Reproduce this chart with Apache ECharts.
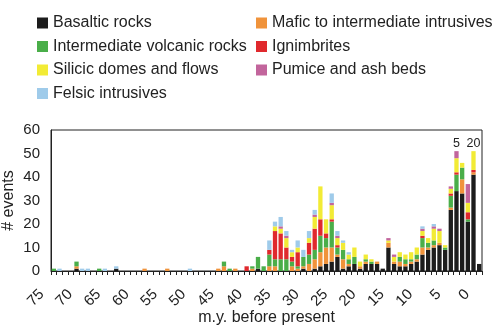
<!DOCTYPE html>
<html><head><meta charset="utf-8">
<script src="https://cdn.jsdelivr.net/npm/echarts@6/dist/echarts.min.js"></script>
<style>html,body{margin:0;padding:0;background:#fff}#c{width:500px;height:330px}</style>
</head><body><div id="c"></div>
<script>
// ages (m.y. before present), one bar per million years, 75 -> 0
const ages = [75,74,73,72,71,70,69,68,67,66,65,64,63,62,61,60,59,58,57,56,55,54,53,52,51,50,49,48,47,46,45,44,43,42,41,40,39,38,37,36,35,34,33,32,31,30,29,28,27,26,25,24,23,22,21,20,19,18,17,16,15,14,13,12,11,10,9,8,7,6,5,4,3,2,1,0];
const basaltic = [0,0,0,0,1, 0,0,0,0,0, 0,1,0,0,0, 0,0,0,0,0, 0,0,0,0,0, 0,0,0,0,0, 0,0,0,0,0, 0,1,0,0,0, 0,0,0,0,1, 0,1,2,3,4, 6,1,2,3,1, 3,3,3,1,10, 3,2,2,3,4, 7,9,10,11,9, 26,34,33,21,41, 3];
const mafic    = [0,0,0,0,1, 0,0,0,0,0, 0,0,0,0,0, 0,1,0,0,0, 1,0,0,0,0, 0,0,0,0,1, 2,0,1,0,0, 1,0,0,2,2, 0,0,2,1,1, 3,4,6,7,6, 1,4,1,0,1, 1,0,1,0,2, 1,2,1,1,1, 3,1,1,1,0, 1,0,6,0,1, 0];
const intermediate = [1,0,0,0,2, 0,0,0,1,0, 0,0,0,0,0, 0,0,0,0,0, 0,0,0,0,0, 0,0,0,0,0, 2,1,0,0,0, 1,5,2,5,3, 5,5,2,1,4, 4,4,7,4,11, 3,4,2,3,0, 1,1,0,0,0, 0,2,2,1,2, 4,2,2,0,1, 5,7,5,1,0, 0];
const ignimbrites = [0,0,0,0,0, 0,0,0,0,0, 0,0,0,0,0, 0,0,0,0,0, 0,0,0,0,0, 0,0,0,0,0, 0,0,0,0,2, 0,0,0,2,12, 11,5,2,6,0, 5,9,7,2,1, 1,0,0,0,0, 0,0,0,0,0, 0,0,0,0,0, 1,0,0,0,0, 1,1,0,3,1, 0];
const silicic  = [0,0,0,0,0, 0,0,0,0,0, 0,0,0,0,0, 0,0,0,0,0, 0,0,0,0,0, 0,0,0,0,0, 0,0,0,0,0, 0,0,0,0,2, 2,4,2,2,0, 2,5,14,6,6, 3,3,2,4,2, 2,1,0,0,1, 2,2,2,3,3, 2,2,5,5,1, 2,6,2,4,8, 0];
const pumice   = [0,0,0,0,0, 0,0,0,0,0, 0,0,0,0,0, 0,0,0,0,0, 0,0,0,0,0, 0,0,0,0,0, 0,0,0,0,0, 0,0,0,0,0, 1,1,0,0,0, 0,1,0,0,1, 1,0,0,0,0, 0,0,0,0,1, 1,0,0,0,0, 1,0,1,1,0, 1,3,0,8,0, 0];
const felsic   = [0,1,0,0,0, 1,1,0,0,1, 0,1,0,0,0, 0,0,0,0,0, 0,0,0,0,1, 0,0,0,0,0, 0,0,0,0,0, 0,0,0,4,2, 4,2,1,3,3, 3,2,0,0,4, 2,1,1,0,0, 0,0,0,0,0, 0,0,0,0,0, 1,0,1,0,0, 0,0,0,0,0, 0];
const noteAges  = [4, 1];
const noteTexts = ['5', '20'];
const yTicks = [0, 10, 20, 30, 40, 50, 60];

const seriesDefs = [
  ['Basaltic rocks', basaltic, '#1c1c1c'],
  ['Mafic to intermediate intrusives', mafic, '#f0933b'],
  ['Intermediate volcanic rocks', intermediate, '#4aae49'],
  ['Ignimbrites', ignimbrites, '#e0292d'],
  ['Silicic domes and flows', silicic, '#f2eb35'],
  ['Pumice and ash beds', pumice, '#c2659c'],
  ['Felsic intrusives', felsic, '#9fcbea']
];
const FONT = 'Liberation Sans, Arial, sans-serif';
const cats = ages.map(String);
const series = seriesDefs.map(([name, data, color]) => ({
  name, type: 'bar', stack: 'all', data, barWidth: '76%',
  itemStyle: { color }, emphasis: { disabled: true }
}));
const noteData = ages.map(a => noteAges.includes(a) ? 0 : '-');
series.push({
  name: 'notes', type: 'bar', stack: 'all', data: noteData, barWidth: '76%',
  itemStyle: { color: 'transparent' }, silent: true,
  label: { show: true, position: 'top', distance: 1, fontSize: 12.5, color: '#222', fontFamily: FONT,
    formatter: p => noteTexts[noteAges.indexOf(Number(p.name))] }
});
const legendText = { fontSize: 16, color: '#222', fontFamily: FONT, lineHeight: 16 };
const chart = echarts.init(document.getElementById('c'), null, { renderer: 'canvas' });
chart.setOption({
  animation: false,
  textStyle: { fontFamily: FONT },
  legend: [
    { orient: 'vertical', left: 37, top: 15, padding: 0, itemWidth: 11, itemHeight: 11, itemGap: 7.5, icon: 'rect',
      textStyle: legendText, selectedMode: false,
      data: ['Basaltic rocks', 'Intermediate volcanic rocks', 'Silicic domes and flows', 'Felsic intrusives'] },
    { orient: 'vertical', left: 256, top: 15, padding: 0, itemWidth: 11, itemHeight: 11, itemGap: 7.5, icon: 'rect',
      textStyle: legendText, selectedMode: false,
      data: ['Mafic to intermediate intrusives', 'Ignimbrites', 'Pumice and ash beds'] }
  ],
  grid: { left: 51, right: 18, top: 130, bottom: 59, show: true, borderColor: '#222', borderWidth: 1,
          outerBoundsMode: 'none', containLabel: false },
  xAxis: {
    type: 'category', data: cats, boundaryGap: true,
    name: 'm.y. before present', nameLocation: 'middle', nameGap: 39, nameMoveOverlap: false,
    nameTextStyle: { fontSize: 16, color: '#222' },
    axisLine: { lineStyle: { color: '#222', width: 1 } },
    axisTick: { show: true, interval: 0, length: 4, lineStyle: { color: '#222' } },
    axisLabel: { interval: 4, rotate: 45, fontSize: 15, color: '#222', margin: 9, padding: [0, 17, 0, 0] }
  },
  yAxis: {
    type: 'value', min: yTicks[0], max: yTicks[yTicks.length - 1], interval: 10,
    name: '# events', nameLocation: 'middle', nameGap: 34, nameRotate: 90, nameMoveOverlap: false,
    nameTextStyle: { fontSize: 16, color: '#222' },
    axisLine: { show: true, lineStyle: { color: '#222' } },
    axisTick: { show: false },
    splitLine: { show: false },
    axisLabel: { fontSize: 15, color: '#222', margin: 11 }
  },
  series
});
</script></body></html>
